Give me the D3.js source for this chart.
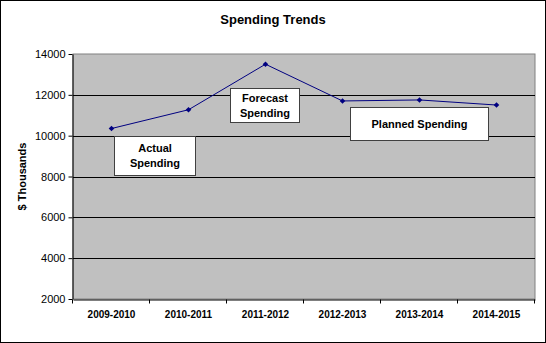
<!DOCTYPE html>
<html>
<head>
<meta charset="utf-8">
<title>Spending Trends</title>
<script src="https://cdn.jsdelivr.net/npm/d3@7"></script>
<style>
body { margin: 0; background: #fff; }
svg { display: block; font-family: "Liberation Sans", Arial, sans-serif; }
</style>
</head>
<body>
<script>
// data
const years = ["2009-2010", "2010-2011", "2011-2012", "2012-2013", "2013-2014", "2014-2015"];
const spending = [10350, 11270, 13500, 11700, 11750, 11500];
const yTicks = [2000, 4000, 6000, 8000, 10000, 12000, 14000];
const noteText = [["Actual", "Spending"], ["Forecast", "Spending"], ["Planned Spending"]];
const noteYear = ["2009-2010", "2011-2012", "2012-2013"];
const noteTop = [10000, 12350, 11400];
const noteBottom = [8100, 10700, 9800];

const width = 546, height = 343;
const margin = {top: 54, right: 11, bottom: 44, left: 73};
const noteOffset = [41, 3, 46], noteWidth = [81, 69, 138];

const svg = d3.select("body").append("svg")
  .attr("width", width)
  .attr("height", height);

svg.append("rect")
  .attr("x", 0.5).attr("y", 0.5)
  .attr("width", width - 1).attr("height", height - 1)
  .attr("fill", "#fff").attr("stroke", "#000");

const x = d3.scaleBand()
  .domain(years)
  .range([margin.left, width - margin.right]);

const y = d3.scaleLinear()
  .domain([2000, 14000])
  .range([height - margin.bottom, margin.top]);

// plot area
svg.append("rect")
  .attr("x", margin.left).attr("y", margin.top)
  .attr("width", width - margin.left - margin.right)
  .attr("height", height - margin.top - margin.bottom)
  .attr("fill", "#c0c0c0")
  .attr("stroke", "#808080");

// gridlines
svg.append("g")
  .selectAll("line")
  .data(yTicks.slice(1, -1))
  .join("line")
  .attr("x1", margin.left).attr("x2", width - margin.right)
  .attr("y1", d => Math.round(y(d)) + 0.5)
  .attr("y2", d => Math.round(y(d)) + 0.5)
  .attr("stroke", "#000");

// y axis
const yAxis = svg.append("g")
  .attr("transform", `translate(${margin.left - 0.5},0)`)
  .call(d3.axisLeft(y).tickValues(yTicks).tickFormat(d3.format("d"))
    .tickSize(4).tickSizeOuter(0).tickPadding(3));
yAxis.select(".domain").attr("stroke", "#000");
yAxis.selectAll("text").attr("font-size", 11).attr("fill", "#000")
  .attr("font-family", "Liberation Sans, Arial, sans-serif");

// x axis
const xAxis = svg.append("g")
  .attr("transform", `translate(0,${height - margin.bottom + 0.5})`)
  .call(d3.axisBottom(x).tickSize(0).tickPadding(11));
xAxis.select(".domain").attr("stroke", "#000");
xAxis.selectAll("text").attr("font-size", 10).attr("font-weight", "bold").attr("fill", "#000")
  .attr("font-family", "Liberation Sans, Arial, sans-serif");
xAxis.selectAll(".sep")
  .data(years.concat(["end"]))
  .join("line")
  .attr("class", "sep")
  .attr("x1", (d, i) => Math.round(margin.left + i * x.step()) - 0.5)
  .attr("x2", (d, i) => Math.round(margin.left + i * x.step()) - 0.5)
  .attr("y1", 0).attr("y2", 4)
  .attr("stroke", "#000");

// line
const line = d3.line()
  .x((d, i) => x(years[i]) + x.bandwidth() / 2)
  .y(d => y(d));

svg.append("path")
  .datum(spending)
  .attr("d", line)
  .attr("fill", "none")
  .attr("stroke", "#000080")
  .attr("stroke-width", 1);

svg.append("g")
  .selectAll("path")
  .data(spending)
  .join("path")
  .attr("transform", (d, i) => `translate(${x(years[i]) + x.bandwidth() / 2},${y(d)})`)
  .attr("d", d3.symbol(d3.symbolDiamond2, 20))
  .attr("fill", "#000080");

// text boxes
const box = svg.append("g")
  .selectAll("g")
  .data(noteText)
  .join("g")
  .attr("transform", (d, i) =>
    `translate(${Math.round(x(noteYear[i]) + noteOffset[i]) + 0.5},${Math.round(y(noteTop[i])) + 0.5})`);

box.append("rect")
  .attr("width", (d, i) => noteWidth[i])
  .attr("height", (d, i) => Math.round(y(noteBottom[i]) - y(noteTop[i])))
  .attr("fill", "#fff")
  .attr("stroke", "#404040");

box.each(function(d, i) {
  const g = d3.select(this);
  const h = y(noteBottom[i]) - y(noteTop[i]);
  const n = d.length;
  d.forEach((t, j) => {
    g.append("text")
      .attr("x", noteWidth[i] / 2)
      .attr("y", h / 2 + (j - (n - 1) / 2) * 15 + 4)
      .attr("text-anchor", "middle")
      .attr("font-size", 11)
      .attr("font-weight", "bold")
      .text(t);
  });
});

// title
svg.append("text")
  .attr("x", width / 2)
  .attr("y", 24)
  .attr("text-anchor", "middle")
  .attr("font-size", 13)
  .attr("font-weight", "bold")
  .text("Spending Trends");

// y title
svg.append("text")
  .attr("transform", `translate(26,${(margin.top + height - margin.bottom) / 2}) rotate(-90)`)
  .attr("text-anchor", "middle")
  .attr("font-size", 11)
  .attr("font-weight", "bold")
  .text("$ Thousands");
</script>
</body>
</html>
